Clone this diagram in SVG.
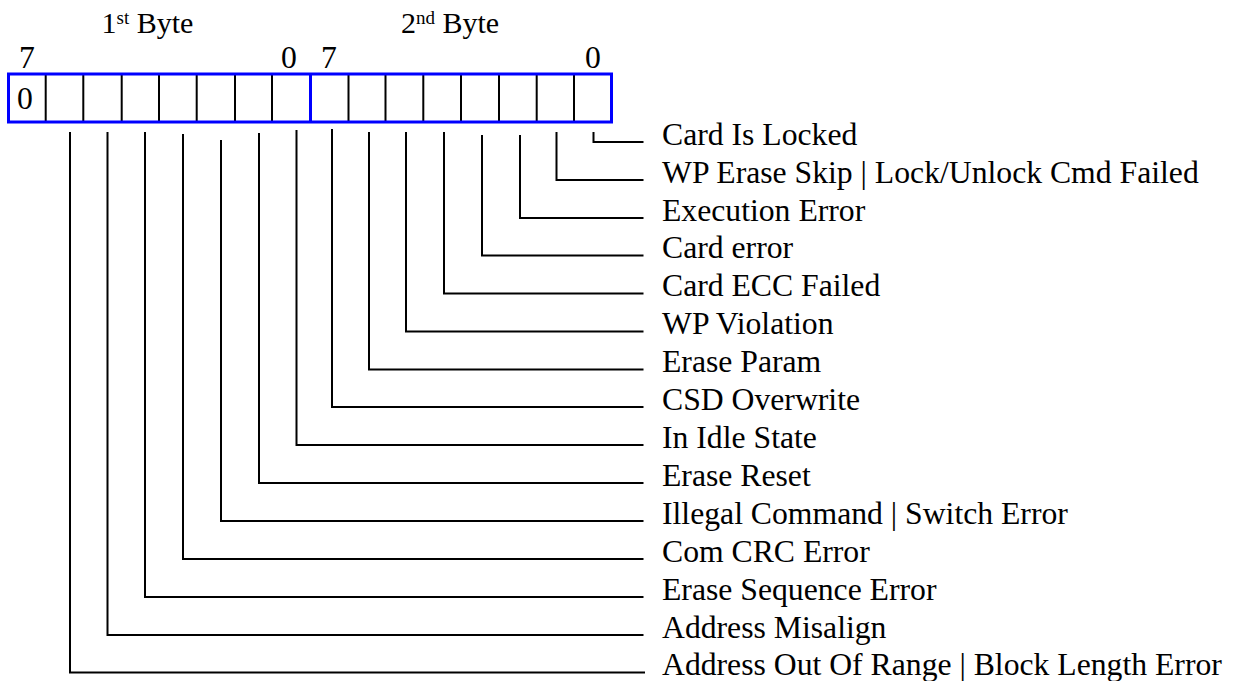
<svg xmlns="http://www.w3.org/2000/svg" width="1238" height="681" viewBox="0 0 1238 681">
<style>
text{font-family:"Liberation Serif","Times New Roman",serif;fill:#000}
.lbl{font-size:31.7px}
.hdr{font-size:30px}
.sup{font-size:19px}
.cell{fill:none;stroke:#000;stroke-width:2}
.blue{fill:none;stroke:#0000ff;stroke-width:3}
.conn{fill:none;stroke:#000;stroke-width:2}
</style>
<rect width="1238" height="681" fill="#fff"/>
<g id="headers">
<text class="hdr" x="101.5" y="33">1<tspan class="sup" dy="-9">st</tspan><tspan dy="9"> Byte</tspan></text>
<text class="hdr" x="401" y="33">2<tspan class="sup" dy="-9">nd</tspan><tspan dy="9"> Byte</tspan></text>
<text class="lbl" x="19" y="68">7</text>
<text class="lbl" x="281" y="68">0</text>
<text class="lbl" x="321" y="68">7</text>
<text class="lbl" x="585" y="68">0</text>
</g>
<g id="register">
<path class="cell" d="M45.7 74V122M83.3 74V122M121.7 74V122M159 74V122M196.7 74V122M235 74V122M272 74V122M348.5 74V122M385.5 74V122M423.3 74V122M461 74V122M499 74V122M536.7 74V122M574 74V122"/>
<rect class="blue" x="8.5" y="74" width="603" height="48"/>
<line class="blue" x1="310.5" y1="74" x2="310.5" y2="122"/>
<text class="lbl" x="17" y="109">0</text>
</g>
<g id="connectors">
<path class="conn" d="M593.5 132V142H643.5"/>
<path class="conn" d="M556.5 132V180H643.5"/>
<path class="conn" d="M520 135V218H643.5"/>
<path class="conn" d="M482 135V255.5H643.5"/>
<path class="conn" d="M444 132V293.5H643.5"/>
<path class="conn" d="M406 132V331.5H643.5"/>
<path class="conn" d="M369 132V369.5H643.5"/>
<path class="conn" d="M332 129V407H643.5"/>
<path class="conn" d="M296.5 130V445H643.5"/>
<path class="conn" d="M259 133V483H643.5"/>
<path class="conn" d="M221 140V521H643.5"/>
<path class="conn" d="M183 134V559H643.5"/>
<path class="conn" d="M145 132V597H643.5"/>
<path class="conn" d="M107.5 132V635H643.5"/>
<path class="conn" d="M70 132V672.5H645"/>
</g>
<g id="n0"><text class="lbl" x="662" y="144.5">Card Is Locked</text></g>
<g id="n1"><text class="lbl" x="662" y="182.5">WP Erase Skip | Lock/Unlock Cmd Failed</text></g>
<g id="n2"><text class="lbl" x="662" y="220.5">Execution Error</text></g>
<g id="n3"><text class="lbl" x="662" y="258">Card error</text></g>
<g id="n4"><text class="lbl" x="662" y="296">Card ECC Failed</text></g>
<g id="n5"><text class="lbl" x="662" y="334">WP Violation</text></g>
<g id="n6"><text class="lbl" x="662" y="372">Erase Param</text></g>
<g id="n7"><text class="lbl" x="662" y="409.5">CSD Overwrite</text></g>
<g id="n8"><text class="lbl" x="662" y="447.5">In Idle State</text></g>
<g id="n9"><text class="lbl" x="662" y="485.5">Erase Reset</text></g>
<g id="n10"><text class="lbl" x="662" y="523.5">Illegal Command | Switch Error</text></g>
<g id="n11"><text class="lbl" x="662" y="561.5">Com CRC Error</text></g>
<g id="n12"><text class="lbl" x="662" y="599.5">Erase Sequence Error</text></g>
<g id="n13"><text class="lbl" x="662" y="637.5">Address Misalign</text></g>
<g id="n14"><text class="lbl" x="662" y="674.5">Address Out Of Range | Block Length Error</text></g>
</svg>
